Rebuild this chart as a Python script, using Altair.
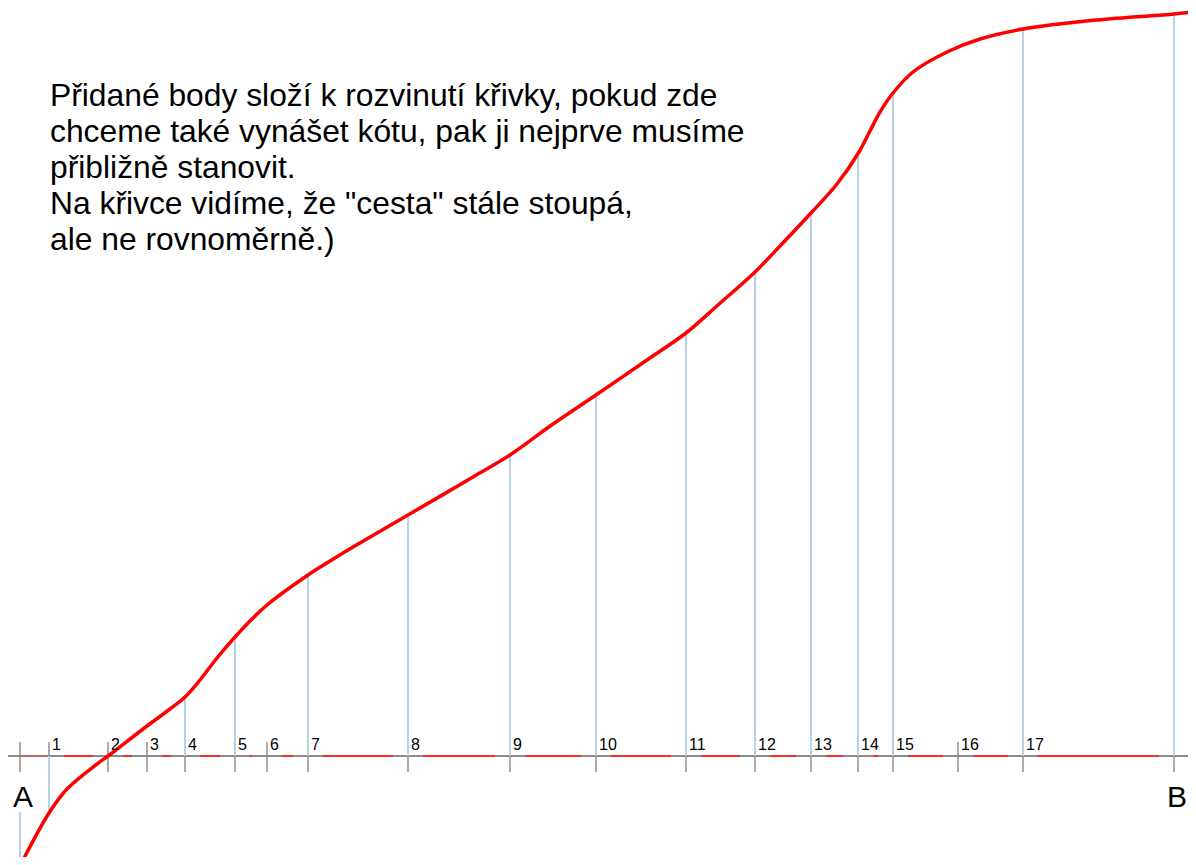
import altair as alt
import pandas as pd

# ---- data (distance along A-B, height above the A-B line) ----
station_names = ["A", "1", "2", "3", "4", "5", "6", "7", "8", "9", "10",
                 "11", "12", "13", "14", "15", "16", "17", "B"]
station_pos = [0, 29, 88, 127, 165, 215, 247, 288, 388, 490, 576,
               666, 735, 791, 838, 873, 938, 1003, 1154]
station_height = [-108, -57, 0, 30, 59, 118, 151, 181, 241, 301, 361,
                  422, 484, 543, 604, 663, 706, 727, 742]
has_drop = [True, True, False, False, True, True, False, True, True, True, True,
            True, True, True, True, True, False, True, True]
drop_start = [-56, 0, 0, 0, 0, 0, 0, 0, 0, 0, 0,
              0, 0, 0, 0, 0, 0, 0, 0]

curve_pos = [1, 29, 47, 77, 88, 127, 150, 165, 180, 197, 215, 233, 247, 288, 310, 333,
             388, 453, 490, 533, 576, 627, 666, 698, 735, 760, 791, 817, 839, 850,
             860, 873, 893, 927, 960, 1003, 1077, 1154, 1172]
curve_height = [-108, -57, -33, -8, 0, 30, 47, 59, 76, 98, 119, 138, 151, 181, 195, 209,
                241, 279, 301, 332, 361, 396, 423, 451, 484, 510, 543, 572, 604, 625,
                644, 663, 684, 704, 717, 727, 736, 742, 744]

paragraph = [
    "Přidané body složí k rozvinutí křivky, pokud zde",
    "chceme také vynášet kótu, pak ji nejprve musíme",
    "přibližně stanovit.",
    "Na křivce vidíme, že \"cesta\" stále stoupá,",
    "ale ne rovnoměrně.)",
]

FONT = "Liberation Sans"
GAP = 15

xs = alt.Scale(domain=[-12, 1168], nice=False, zero=False)
ys = alt.Scale(domain=[-101, 748], nice=False, zero=False)

stations = pd.DataFrame({
    "name": station_names, "d": station_pos, "h": station_height,
    "drop": has_drop, "h0": drop_start,
})
stations["tick_top"] = 14
stations["tick_bot"] = -16
stations["zero"] = 0

curve = pd.DataFrame({"d": curve_pos, "h": curve_height})

base = pd.DataFrame({"d": [-15], "d2": [1180], "h": [0]})

segs = []
for a, b in zip(station_pos[:-1], station_pos[1:]):
    if b - a > 2 * GAP:
        segs.append({"d": a + GAP, "d2": b - GAP, "h": 0, "kind": "red"})
    else:
        segs.append({"d": a, "d2": b, "h": 0, "kind": "muted"})
segs = pd.DataFrame(segs)

baseline = alt.Chart(base).mark_rule(color="#8c8c8c", strokeWidth=2).encode(
    x=alt.X("d:Q", scale=xs, axis=None), x2="d2:Q",
    y=alt.Y("h:Q", scale=ys, axis=None),
)

red_segs = alt.Chart(segs).mark_rule(strokeWidth=2).encode(
    x=alt.X("d:Q", scale=xs, axis=None), x2="d2:Q",
    y=alt.Y("h:Q", scale=ys, axis=None),
    color=alt.Color("kind:N", scale=alt.Scale(domain=["red", "muted"],
                                              range=["#ff2a2a", "#b86a6a"]), legend=None),
)

ticks = alt.Chart(stations).mark_rule(color="#7f7f7f", strokeWidth=1.3).encode(
    x=alt.X("d:Q", scale=xs, axis=None),
    y=alt.Y("tick_top:Q", scale=ys, axis=None), y2="tick_bot:Q",
)

drops = alt.Chart(stations).transform_filter("datum.drop").mark_rule(
    color="#b5d3e8", strokeWidth=2
).encode(
    x=alt.X("d:Q", scale=xs, axis=None),
    y=alt.Y("h0:Q", scale=ys, axis=None), y2="h:Q",
)

line = alt.Chart(curve).mark_line(
    color="#ff0000", strokeWidth=3.5, interpolate="catmull-rom"
).encode(
    x=alt.X("d:Q", scale=xs, axis=None),
    y=alt.Y("h:Q", scale=ys, axis=None),
)

num_labels = alt.Chart(stations).transform_filter(
    "datum.name != 'A' && datum.name != 'B'"
).mark_text(
    font=FONT, fontSize=16, align="left", baseline="alphabetic", dx=3, dy=-6, color="#000000"
).encode(
    x=alt.X("d:Q", scale=xs, axis=None),
    y=alt.Y("zero:Q", scale=ys, axis=None),
    text="name:N",
)

ab_labels = alt.Chart(stations).transform_filter(
    "datum.name == 'A' || datum.name == 'B'"
).transform_calculate(lab_h="-51").mark_text(
    font=FONT, fontSize=30, align="center", baseline="alphabetic", dx=3, color="#000000"
).encode(
    x=alt.X("d:Q", scale=xs, axis=None),
    y=alt.Y("lab_h:Q", scale=ys, axis=None),
    text="name:N",
)

para = alt.Chart(pd.DataFrame({"k": [0]})).mark_text(
    font=FONT, fontSize=31.8, align="left", baseline="alphabetic",
    lineHeight=36, color="#000000", text=paragraph,
).encode(x=alt.value(42), y=alt.value(98))

chart = alt.layer(
    baseline, red_segs, ticks, drops, line, num_labels, ab_labels, para
).properties(
    width=1180, height=849, padding=0, autosize="none", background="white"
).configure_view(stroke=None)

chart.save("out.html", embed_options={"renderer": "svg", "actions": False})
